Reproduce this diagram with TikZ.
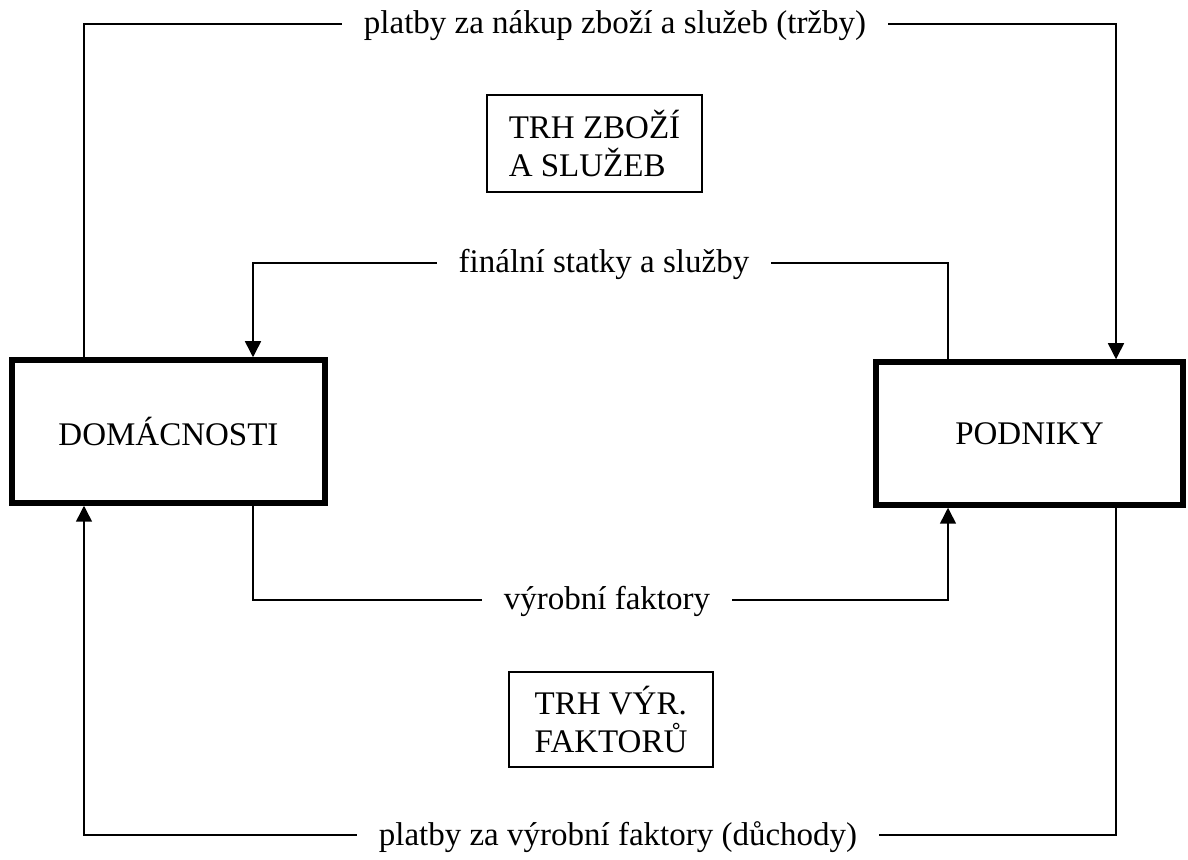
\documentclass[tikz,border=0pt]{standalone}
\usepackage{fontspec}
\setmainfont{Liberation Serif}
\usetikzlibrary{arrows.meta}
\begin{document}
\begin{tikzpicture}[x=0.5pt,y=-0.5pt,
  font=\fontsize{16.5}{18.75}\selectfont,
  agent/.style={draw,line width=2.75pt,minimum width=#1,minimum height=71.5pt,inner sep=0pt},
  market/.style={draw,line width=0.75pt,align=left,inner sep=0pt},
  flow/.style={line width=0.75pt},
  arr/.style={flow,-{Triangle[length=8pt,width=8pt]}},
  lbl/.style={fill=white,inner xsep=11pt,inner ysep=2pt,anchor=base}]
\useasboundingbox (0,0) rectangle (1188,860);
\fill[white] (0,0) rectangle (1188,860);
% agents
\node[agent=156.5pt] (dom) at (168.5,431.5) {DOMÁCNOSTI};
\node[agent=153.5pt] (pod) at (1029.5,433.5) {PODNIKY};
% markets
\node[market,minimum width=107.5pt,minimum height=48.5pt] (tzs) at (594.5,143.5) {TRH ZBOŽÍ\\A SLUŽEB};
\node[market,minimum width=102pt,minimum height=47.5pt] (tvf) at (611,719.5) {TRH VÝR.\\FAKTORŮ};
% corner coordinates
\coordinate (a1) at (84,24);   \coordinate (a2) at (1116,24);
\coordinate (b1) at (253,263); \coordinate (b2) at (948,263);
\coordinate (c1) at (253,600); \coordinate (c2) at (948,600);
\coordinate (d1) at (84,835);  \coordinate (d2) at (1116,835);
% flows
\draw[arr] (dom.north -| a1) -- (a1) -- (a2) -- (pod.north -| a2);
\draw[arr] (pod.north -| b2) -- (b2) -- (b1) -- (dom.north -| b1);
\draw[arr] (dom.south -| c1) -- (c1) -- (c2) -- (pod.south -| c2);
\draw[arr] (pod.south -| d2) -- (d2) -- (d1) -- (dom.south -| d1);
% labels
\node[lbl] (l1) at (615,34) {platby za nákup zboží a služeb (tržby)};
\node[lbl] (l2) at (604,273) {finální statky a služby};
\node[lbl] (l3) at (607,610) {výrobní faktory};
\node[lbl] (l4) at (618,845) {platby za výrobní faktory (důchody)};
\end{tikzpicture}
\end{document}
